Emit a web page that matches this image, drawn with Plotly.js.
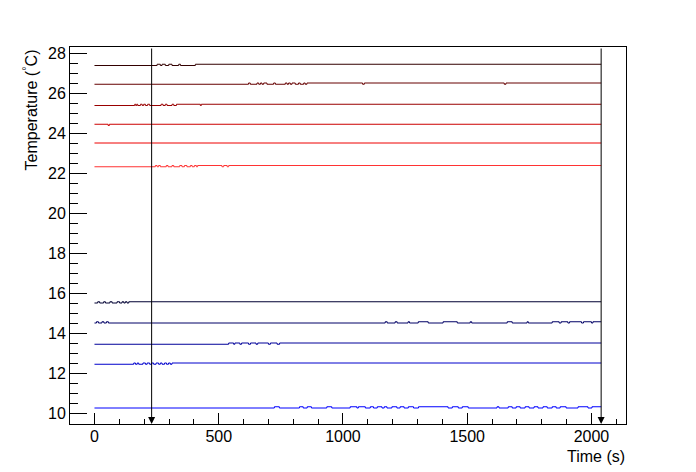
<!DOCTYPE html>
<html>
<head>
<meta charset="utf-8">
<script src="https://cdn.plot.ly/plotly-3.0.1.min.js"></script>
<style>html,body{margin:0;padding:0;background:#fff;}#chart{width:696px;height:472px;}</style>
</head>
<body>
<div id="chart"></div>
<script>
// ---- Data: time (s) of level changes and temperature (°C) levels per sensor ----
const tR1 = [0, 252, 265, 272, 285, 299, 312, 339, 346, 406, 2039];
const vR1 = [27.375, 27.4375, 27.375, 27.4375, 27.375, 27.4375, 27.375, 27.4375, 27.375, 27.4375, 27.4375];

const tR2 = [0, 620, 627, 654, 661, 668, 674, 681, 694, 721, 728, 768, 775, 781, 788, 795, 808, 821, 828, 842, 848, 855, 1079, 1086, 1649, 1656, 2039];
const vR2 = [26.4375, 26.5, 26.4375, 26.5, 26.4375, 26.5, 26.4375, 26.5, 26.4375, 26.5, 26.4375, 26.5, 26.4375, 26.5, 26.4375, 26.5, 26.4375, 26.5, 26.4375, 26.5, 26.4375, 26.5, 26.4375, 26.5, 26.4375, 26.5, 26.5];

const tR3 = [0, 162, 166, 170, 174, 185, 192, 198, 205, 214, 222, 268, 276, 285, 292, 312, 319, 330, 426, 430, 2039];
const vR3 = [25.375, 25.4375, 25.375, 25.4375, 25.375, 25.4375, 25.375, 25.4375, 25.375, 25.4375, 25.375, 25.4375, 25.375, 25.4375, 25.375, 25.4375, 25.375, 25.4375, 25.375, 25.4375, 25.4375];

const tR4 = [0, 55, 60, 2039];
const vR4 = [24.4375, 24.375, 24.4375, 24.4375];

const tR5 = [0, 2039];
const vR5 = [23.5, 23.5];

const tR6 = [0, 245, 252, 258, 265, 289, 296, 312, 319, 343, 352, 362, 372, 386, 393, 402, 410, 415, 513, 520, 534, 540, 2039];
const vR6 = [22.3125, 22.375, 22.3125, 22.375, 22.3125, 22.375, 22.3125, 22.375, 22.3125, 22.375, 22.3125, 22.375, 22.3125, 22.375, 22.3125, 22.375, 22.3125, 22.375, 22.3125, 22.375, 22.3125, 22.375, 22.375];

const tB1 = [0, 13, 21, 37, 44, 62, 71, 91, 101, 111, 118, 124, 131, 138, 2039];
const vB1 = [15.5, 15.5625, 15.5, 15.5625, 15.5, 15.5625, 15.5, 15.5625, 15.5, 15.5625, 15.5, 15.5625, 15.5, 15.5625, 15.5625];

const tB2 = [0, 8, 16, 30, 38, 48, 56, 1170, 1178, 1210, 1218, 1262, 1268, 1303, 1343, 1403, 1460, 1512, 1518, 1661, 1681, 1741, 1746, 1842, 1870, 1878, 1905, 1912, 1960, 1968, 2000, 2006, 2039];
const vB2 = [14.5, 14.5625, 14.5, 14.5625, 14.5, 14.5625, 14.5, 14.5625, 14.5, 14.5625, 14.5, 14.5625, 14.5, 14.5625, 14.5, 14.5625, 14.5, 14.5625, 14.5, 14.5625, 14.5, 14.5625, 14.5, 14.5625, 14.5, 14.5625, 14.5, 14.5625, 14.5, 14.5625, 14.5, 14.5625, 14.5625];

const tB3 = [0, 540, 560, 565, 585, 592, 620, 628, 650, 657, 700, 708, 735, 745, 2039];
const vB3 = [13.4375, 13.5, 13.4375, 13.5, 13.4375, 13.5, 13.4375, 13.5, 13.4375, 13.5, 13.4375, 13.5, 13.4375, 13.5, 13.5];

const tB4 = [0, 158, 165, 172, 178, 195, 205, 212, 222, 230, 238, 248, 258, 265, 272, 282, 290, 298, 305, 312, 2039];
const vB4 = [12.4375, 12.5, 12.4375, 12.5, 12.4375, 12.5, 12.4375, 12.5, 12.4375, 12.5, 12.4375, 12.5, 12.4375, 12.5, 12.4375, 12.5, 12.4375, 12.5, 12.4375, 12.5, 12.5];

const tB5 = [0, 724, 744, 825, 840, 856, 873, 935, 955, 1029, 1056, 1062, 1090, 1110, 1123, 1138, 1157, 1166, 1177, 1197, 1217, 1230, 1246, 1263, 1284, 1304, 1423, 1440, 1464, 1480, 1504, 1620, 1628, 1665, 1681, 1697, 1713, 1733, 1749, 1769, 1785, 1805, 1822, 1842, 1858, 1874, 1898, 1946, 1986, 2002, 2039];
const vB5 = [10.25, 10.3125, 10.25, 10.3125, 10.25, 10.3125, 10.25, 10.3125, 10.25, 10.3125, 10.25, 10.3125, 10.25, 10.3125, 10.25, 10.3125, 10.25, 10.3125, 10.25, 10.3125, 10.25, 10.3125, 10.25, 10.3125, 10.25, 10.3125, 10.25, 10.3125, 10.25, 10.3125, 10.25, 10.3125, 10.25, 10.3125, 10.25, 10.3125, 10.25, 10.3125, 10.25, 10.3125, 10.25, 10.3125, 10.25, 10.3125, 10.25, 10.3125, 10.25, 10.3125, 10.25, 10.3125, 10.3125];

const arrowTimes = [230, 2039];

const xTickVals = [0, 500, 1000, 1500, 2000];
const yTickVals = [10, 12, 14, 16, 18, 20, 22, 24, 26, 28];

// ---- Styling ----
const series = [
  [tR1, vR1, '#330000'], [tR2, vR2, '#660000'], [tR3, vR3, '#990000'],
  [tR4, vR4, '#cc0000'], [tR5, vR5, '#ee0000'], [tR6, vR6, '#ff3333'],
  [tB1, vB1, '#000033'], [tB2, vB2, '#000066'], [tB3, vB3, '#000099'],
  [tB4, vB4, '#0000cc'], [tB5, vB5, '#0000ff']
];

const traces = series.map(s => ({
  x: s[0], y: s[1], type: 'scatter', mode: 'lines',
  line: {color: s[2], width: 1, shape: 'hv'},
  hoverinfo: 'skip', showlegend: false
}));

const xRange = [-98.5, 2139];
const yRange = [9.45, 28.3];
const font = {family: 'Liberation Sans, Arial, Helvetica, sans-serif', size: 16, color: '#000'};

const annotations = arrowTimes.map(t => ({
  x: t, y: yRange[0], xref: 'x', yref: 'y',
  ax: t, ay: yRange[1], axref: 'x', ayref: 'y',
  text: '', showarrow: true, arrowhead: 2, arrowsize: 1.4, arrowwidth: 1, arrowcolor: '#000', standoff: 0
}));
annotations.push({
  text: 'Time (s)', xref: 'paper', yref: 'paper', x: 1, y: -0.0605,
  xanchor: 'right', yanchor: 'top', showarrow: false, font: font, borderpad: 0
});
annotations.push({
  text: 'Temperature (<sup>°</sup>C)', xref: 'paper', yref: 'paper', x: -0.072, y: 1,
  xanchor: 'center', yanchor: 'top', textangle: -90, showarrow: false, font: font
});

const axisCommon = {
  showgrid: false, zeroline: false, showline: true, mirror: true,
  linecolor: '#000', linewidth: 1, ticks: 'inside', tickcolor: '#000', tickwidth: 1,
  tickfont: font
};

const layout = {
  width: 696, height: 472,
  margin: {l: 70, r: 70, t: 47, b: 48, pad: 0},
  paper_bgcolor: '#fff', plot_bgcolor: '#fff',
  showlegend: false,
  xaxis: Object.assign({}, axisCommon, {
    range: xRange, tickmode: 'array', tickvals: xTickVals, ticklen: 11,
    ticklabelstandoff: -2,
    minor: {ticks: 'inside', ticklen: 5.5, dtick: 100, tick0: 0, tickcolor: '#000', tickwidth: 1, showgrid: false}
  }),
  yaxis: Object.assign({}, axisCommon, {
    range: yRange, tickmode: 'array', tickvals: yTickVals, ticklen: 16.5,
    minor: {ticks: 'inside', ticklen: 8, dtick: 0.5, tick0: 0, tickcolor: '#000', tickwidth: 1, showgrid: false}
  }),
  annotations: annotations
};

Plotly.newPlot('chart', traces, layout, {staticPlot: true, displayModeBar: false});
</script>
</body>
</html>
